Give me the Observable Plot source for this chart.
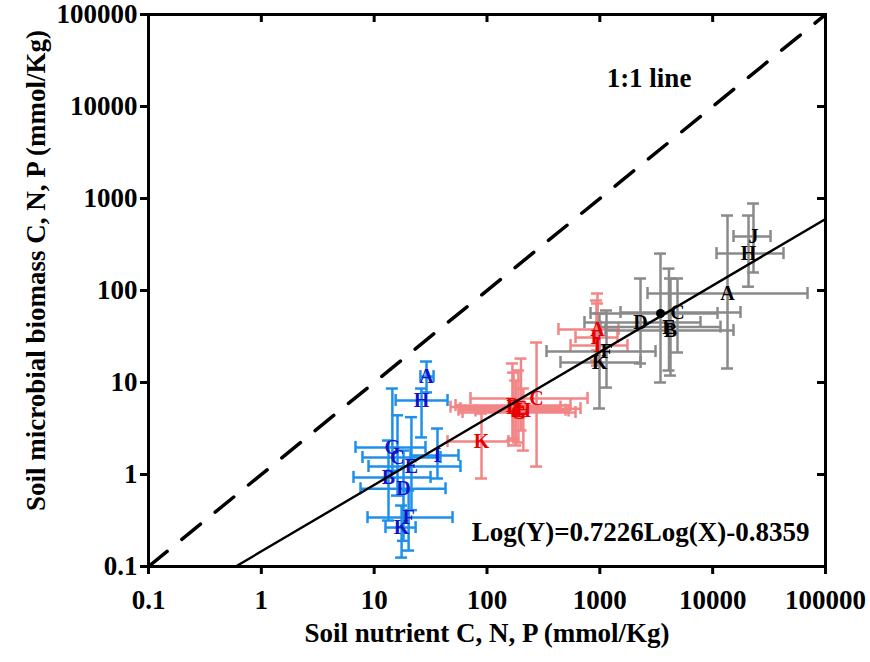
<!DOCTYPE html>
<html><head><meta charset="utf-8">
<script src="https://cdn.jsdelivr.net/npm/d3@7"></script>
<script src="https://cdn.jsdelivr.net/npm/@observablehq/plot@0.6"></script>
<style>body{margin:0;background:#fff;}</style>
</head><body><div id="chart"></div>
<script>
const ticks = [0.1, 1, 10, 100, 1000, 10000, 100000];
const tickLabels = ["0.1", "1", "10", "100", "1000", "10000", "100000"];

// P (blue)
const pSites = ["A", "H", "G", "C", "E", "I", "B", "D", "F", "K"];
const pX   = [29.1, 26.3, 14.5, 16.1, 21.4, 36.4, 13.4, 18.2, 20.2, 17.5];
const pXlo = [25.7, 15.5, 6.83, 7.88, 8.91, 21.0, 6.56, 7.57, 8.73, 12.6];
const pXhi = [33.6, 44.7, 28.5, 38.7, 58.2, 55.9, 31.6, 42.9, 49.5, 23.3];
const pY   = [11.6, 6.37, 1.97, 1.53, 1.22, 1.61, 0.93, 0.70, 0.34, 0.265];
const pYlo = [7.8, 2.53, 1.1, 0.59, 0.41, 0.905, 0.316, 0.19, 0.149, 0.125];
const pYhi = [16.9, 8.6, 8.6, 4.4, 4.2, 3.16, 2.34, 1.82, 0.67, 0.46];

// N (red)
const nSites = ["K", "B", "G", "C", "D", "E", "H", "J", "A", "I", "F"];
const nX   = [89.4, 168, 190, 275, 172, 200, 210, 180, 953, 953, 934];
const nXlo = [44.7, 52.6, 60.7, 71.4, 47.5, 58.2, 79.1, 55.9, 430, 550, 609];
const nXhi = [155, 550, 609, 778, 448, 674, 528, 496, 1464, 1759, 1434];
const nY   = [2.28, 5.62, 4.72, 6.7, 5.4, 5.2, 4.9, 5.0, 37.7, 25.2, 30.8];
const nYlo = [0.905, 2.34, 2.23, 1.22, 2.46, 3.01, 1.82, 2.07, 22.3, 15.3, 17.3];
const nYhi = [4.6, 16.1, 13.5, 27.2, 12.8, 18.2, 8.6, 10.5, 92.8, 72.2, 77.8];

// C (gray)
const cSites = ["H", "J", "A", "D", "G", "C", "B", "E", "F", "K"];
const cX   = [20790, 23010, 13540, 2294, 3450, 4880, 4230, 4100, 1146, 993];
const cXlo = [10820, 15300, 2646, 731, 827, 1525, 1123, 1014, 337, 448];
const cXhi = [42450, 32560, 69290, 7803, 11040, 17650, 15300, 11740, 3115, 2294];
const cY   = [252, 386, 92.8, 44.9, 56.2, 57.7, 36.8, 40.0, 21.7, 16.5];
const cYlo = [110, 157, 14.2, 16.1, 10, 21.2, 11.9, 13.5, 8.8, 5.22];
const cYhi = [653, 882, 653, 135, 252, 135, 135, 173, 60.6, 56.2];

// regression Log(Y)=0.7226Log(X)-0.8359 and 1:1 line
const slope = 0.7226, intercept = -0.8359;
const oneToOne = [0.1, 100000];

function rows(sites, x, xlo, xhi, y, ylo, yhi) {
  return sites.map((s, i) => ({site: s, x: x[i], xlo: xlo[i], xhi: xhi[i], y: y[i], ylo: ylo[i], yhi: yhi[i]}));
}
const P = rows(pSites, pX, pXlo, pXhi, pY, pYlo, pYhi);
const N = rows(nSites, nX, nXlo, nXhi, nY, nYlo, nYhi);
const C = rows(cSites, cX, cXlo, cXhi, cY, cYlo, cYhi);

const xStart = Math.pow(10, (Math.log10(0.1) - intercept) / slope);
const regX = [xStart, 100000];
const reg = regX.map(x => ({x, y: Math.pow(10, slope * Math.log10(x) + intercept)}));

const cap = 6, bw = 2.5;
function bars(data, color) {
  const o = {stroke: color, strokeWidth: bw};
  return [
    Plot.ruleY(data, {y: "y", x1: "xlo", x2: "xhi", ...o}),
    Plot.ruleX(data, {x: "x", y1: "ylo", y2: "yhi", ...o}),
    Plot.ruleX(data, {x: "xlo", y1: "y", y2: "y", insetTop: -cap, insetBottom: -cap, ...o}),
    Plot.ruleX(data, {x: "xhi", y1: "y", y2: "y", insetTop: -cap, insetBottom: -cap, ...o}),
    Plot.ruleY(data, {y: "ylo", x1: "x", x2: "x", insetLeft: -cap, insetRight: -cap, ...o}),
    Plot.ruleY(data, {y: "yhi", x1: "x", x2: "x", insetLeft: -cap, insetRight: -cap, ...o})
  ];
}
const letterFont = {fontFamily: "Liberation Serif", fontWeight: "bold", fontSize: 20};
const big = {fontFamily: "Liberation Serif", fontWeight: "bold", fontSize: 27, fill: "black"};
const fmt = d => tickLabels[ticks.indexOf(d)];

const chart = Plot.plot({
  width: 870,
  height: 662,
  marginLeft: 148,
  marginRight: 45,
  marginTop: 14,
  marginBottom: 96,
  style: {fontFamily: "Liberation Serif", fontWeight: "bold", fontSize: "27px", color: "black", background: "white"},
  x: {type: "log", domain: [0.1, 100000], label: null},
  y: {type: "log", domain: [0.1, 100000], label: null},
  marks: [
    ...bars(P, "#1E90EA"),
    ...bars(N, "#F28585"),
    ...bars(C, "#8A8A8A"),
    Plot.text(P, {x: "x", y: "y", text: "site", fill: "#1212C8", ...letterFont}),
    Plot.text(N, {x: "x", y: "y", text: "site", fill: "#E80000", ...letterFont}),
    Plot.text(C.filter(d => d.site !== "G"), {x: "x", y: "y", text: "site", fill: "black", ...letterFont}),
    Plot.dot(C.filter(d => d.site === "G"), {x: "x", y: "y", r: 4.5, fill: "black"}),
    Plot.line(oneToOne, {x: d => d, y: d => d, stroke: "black", strokeWidth: 3.5, strokeDasharray: "24,19", clip: true}),
    Plot.line(reg, {x: "x", y: "y", stroke: "black", strokeWidth: 2.4, clip: true}),
    Plot.frame({stroke: "black", strokeWidth: 3}),
    Plot.ruleY(ticks, {y: d => d, x1: () => 100000, x2: () => 100000, insetLeft: -8, stroke: "black", strokeWidth: 3}),
    Plot.ruleX(ticks, {x: d => d, y1: () => 100000, y2: () => 100000, insetBottom: -8, stroke: "black", strokeWidth: 3}),
    Plot.axisX({ticks, tickFormat: fmt, tickSize: 8, tickPadding: 15, strokeWidth: 3, label: null, fontSize: 27, fontWeight: "bold"}),
    Plot.axisY({ticks, tickFormat: fmt, tickSize: 8, tickPadding: 3, strokeWidth: 3, label: null, fontSize: 27, fontWeight: "bold"}),
    Plot.text(["Soil microbial biomass C, N, P (mmol/Kg)"], {text: d => d, frameAnchor: "left", textAnchor: "middle", dx: -112, dy: -20, rotate: -90, ...big}),
    Plot.text(["Soil nutrient C, N, P (mmol/Kg)"], {text: d => d, frameAnchor: "bottom", dy: 75, ...big}),
    Plot.text(["1:1 line"], {text: d => d, frameAnchor: "top", dx: 162, dy: 53, ...big}),
    Plot.text(["Log(Y)=0.7226Log(X)-0.8359"], {text: d => d, frameAnchor: "bottom-right", textAnchor: "end", dx: -16, dy: -26, ...big})
  ]
});
document.getElementById("chart").appendChild(chart);
</script>
</body></html>
